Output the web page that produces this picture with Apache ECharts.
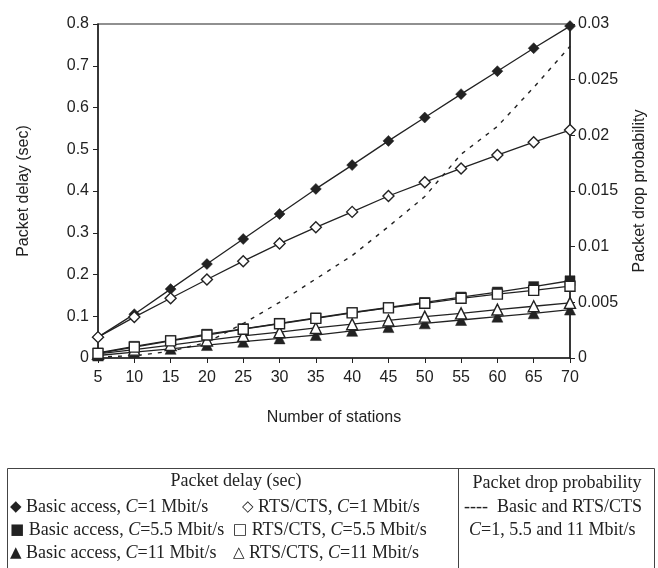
<!DOCTYPE html>
<html>
<head>
<meta charset="utf-8">
<script src="https://cdn.jsdelivr.net/npm/echarts@6/dist/echarts.min.js"></script>
<style>
  html, body { margin: 0; padding: 0; background: #fff; }
  #chart { width: 658px; height: 568px; }
</style>
</head>
<body>
<div id="chart"></div>
<script>
// number of stations
const stations = [5, 10, 15, 20, 25, 30, 35, 40, 45, 50, 55, 60, 65, 70];

// packet delay (sec), left axis
const basic1   = [0.050, 0.105, 0.165, 0.225, 0.285, 0.345, 0.405, 0.462, 0.520, 0.576, 0.632, 0.687, 0.742, 0.795];
const rts1     = [0.050, 0.098, 0.143, 0.188, 0.232, 0.274, 0.313, 0.350, 0.388, 0.421, 0.454, 0.486, 0.517, 0.546];
const basic55  = [0.012, 0.028, 0.042, 0.057, 0.070, 0.083, 0.096, 0.109, 0.121, 0.133, 0.146, 0.158, 0.171, 0.185];
const rts55    = [0.011, 0.026, 0.041, 0.055, 0.069, 0.082, 0.095, 0.108, 0.120, 0.131, 0.143, 0.153, 0.162, 0.172];
const basic11  = [0.006, 0.014, 0.022, 0.031, 0.039, 0.047, 0.055, 0.065, 0.074, 0.083, 0.091, 0.099, 0.107, 0.116];
const rts11    = [0.010, 0.020, 0.031, 0.042, 0.053, 0.062, 0.072, 0.081, 0.090, 0.099, 0.107, 0.116, 0.124, 0.132];

// packet drop probability, right axis
const dropProb = [0.0001, 0.0002, 0.0006, 0.0014, 0.0031, 0.0050, 0.0071, 0.0092, 0.0118, 0.0145, 0.0183, 0.0208, 0.0243, 0.0280];

const ink = '#222';

function pairs(ys) {
  return stations.map((x, i) => [x, ys[i]]);
}

function delaySeries(name, ys, symbol, size, filled) {
  return {
    name: name,
    type: 'line',
    data: pairs(ys),
    symbol: symbol,
    symbolSize: size,
    showSymbol: true,
    lineStyle: { color: ink, width: 1.3 },
    itemStyle: filled
      ? { color: ink, borderColor: ink, borderWidth: 0.5 }
      : { color: '#fff', borderColor: ink, borderWidth: 1.4 },
    emphasis: { disabled: true },
    z: 3
  };
}

const chart = echarts.init(document.getElementById('chart'));

const serif = 'Liberation Serif';
const rich = {
  s: { fontFamily: 'DejaVu Sans', fontSize: 15, color: ink },
  i: { fontFamily: serif, fontSize: 18, fontStyle: 'italic', color: ink }
};

function legendText(x, y, text, align) {
  return {
    type: 'text',
    x: x,
    y: y,
    style: {
      text: text, fontFamily: serif, fontSize: 18, fill: ink, rich: rich,
      align: align || 'left', verticalAlign: 'middle'
    }
  };
}

chart.setOption({
  animation: false,
  backgroundColor: '#fff',
  grid: {
    left: 98, right: 88, top: 24, bottom: 210,
    show: true, borderColor: ink, borderWidth: 1.2
  },
  xAxis: {
    type: 'value',
    min: 5, max: 70, interval: 5,
    name: 'Number of stations',
    nameLocation: 'middle',
    nameGap: 52,
    nameTextStyle: { fontFamily: 'Liberation Sans', fontSize: 16, color: ink },
    axisLine: { lineStyle: { color: ink, width: 1.5 } },
    axisTick: { lineStyle: { color: ink }, length: 5 },
    axisLabel: { fontFamily: 'Liberation Sans', fontSize: 16, color: ink, margin: 12 },
    splitLine: { show: false }
  },
  yAxis: [{
    type: 'value',
    position: 'left',
    min: 0, max: 0.8, interval: 0.1,
    name: 'Packet delay (sec)',
    nameLocation: 'middle',
    nameGap: 66,
    nameRotate: 90,
    nameTextStyle: { fontFamily: 'Liberation Sans', fontSize: 16, color: ink },
    axisLine: { show: true, lineStyle: { color: ink, width: 1.5 } },
    axisTick: { show: true, lineStyle: { color: ink }, length: 5 },
    axisLabel: { fontFamily: 'Liberation Sans', fontSize: 16, color: ink, margin: 9 },
    splitLine: { show: false }
  }, {
    type: 'value',
    position: 'right',
    min: 0, max: 0.03, interval: 0.005,
    name: 'Packet drop probability',
    nameLocation: 'middle',
    nameGap: 62,
    nameRotate: 90,
    nameTextStyle: { fontFamily: 'Liberation Sans', fontSize: 16, color: ink },
    axisLine: { show: true, lineStyle: { color: ink, width: 1.5 } },
    axisTick: { show: true, lineStyle: { color: ink }, length: 5 },
    axisLabel: { fontFamily: 'Liberation Sans', fontSize: 16, color: ink, margin: 8 },
    splitLine: { show: false }
  }],
  series: [
    {
      name: 'Drop probability',
      type: 'line',
      yAxisIndex: 1,
      data: pairs(dropProb),
      showSymbol: false,
      symbol: 'none',
      lineStyle: { color: ink, width: 1.4, type: [4, 6] },
      emphasis: { disabled: true },
      z: 2
    },
    delaySeries('Basic access, C=11 Mbit/s', basic11, 'triangle', 11, true),
    delaySeries('RTS/CTS, C=11 Mbit/s', rts11, 'triangle', 11, false),
    delaySeries('Basic access, C=5.5 Mbit/s', basic55, 'rect', 10, true),
    delaySeries('RTS/CTS, C=5.5 Mbit/s', rts55, 'rect', 10, false),
    delaySeries('Basic access, C=1 Mbit/s', basic1, 'diamond', 11, true),
    delaySeries('RTS/CTS, C=1 Mbit/s', rts1, 'diamond', 11, false)
  ],
  graphic: [
    {
      type: 'rect',
      shape: { x: 7.5, y: 468.5, width: 647, height: 120 },
      style: { fill: 'none', stroke: '#444', lineWidth: 1 }
    },
    {
      type: 'line',
      shape: { x1: 458.5, y1: 468, x2: 458.5, y2: 568 },
      style: { stroke: '#444', lineWidth: 1 }
    },
    legendText(236, 481, 'Packet delay (sec)', 'center'),
    legendText(557, 483, 'Packet drop probability', 'center'),
    legendText(10, 507, '{s|◆} Basic access, {i|C}=1 Mbit/s'),
    legendText(10, 530, '{s|■} Basic access, {i|C}=5.5 Mbit/s'),
    legendText(10, 553, '{s|▲} Basic access, {i|C}=11 Mbit/s'),
    legendText(242, 507, '{s|◇} RTS/CTS, {i|C}=1 Mbit/s'),
    legendText(233, 530, '{s|□} RTS/CTS, {i|C}=5.5 Mbit/s'),
    legendText(233, 553, '{s|△} RTS/CTS, {i|C}=11 Mbit/s'),
    legendText(464, 507, '----  Basic and RTS/CTS'),
    legendText(469, 530, '{i|C}=1, 5.5 and 11 Mbit/s')
  ]
});
</script>
</body>
</html>
